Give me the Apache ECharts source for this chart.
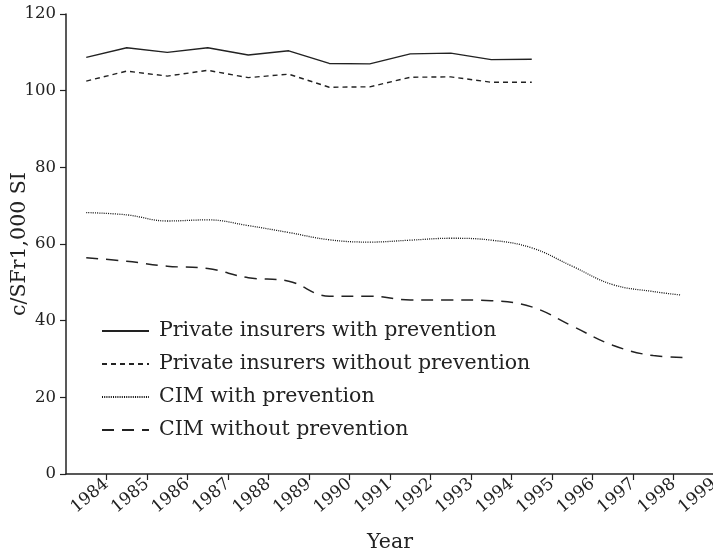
<!DOCTYPE html>
<html>
<head>
<meta charset="utf-8">
<script src="https://cdn.jsdelivr.net/npm/echarts@6/dist/echarts.min.js"></script>
<style>
  html, body { margin: 0; padding: 0; background: #fff; }
  #chart { width: 713px; height: 555px; }
</style>
</head>
<body>
<div id="chart"></div>
<script>
// Year labels along the bottom axis (blank at the origin tick)
const tickLabels = ['', '1984', '1985', '1986', '1987', '1988', '1989', '1990', '1991',
  '1992', '1993', '1994', '1995', '1996', '1997', '1998', '1999'];

// Private insurers, 1984-1995
const privateYears = [1984, 1985, 1986, 1987, 1988, 1989, 1990, 1991, 1992, 1993, 1994, 1995];
const privateWith = [108.7, 111.2, 110.0, 111.2, 109.3, 110.4, 107.1, 107.0, 109.6, 109.8, 108.1, 108.2];
const privateWithout = [102.5, 105.1, 103.8, 105.3, 103.4, 104.3, 100.9, 101.0, 103.5, 103.6, 102.2, 102.2];

// CIM series
const cimWithYears = [1984, 1985, 1986, 1987, 1988, 1989, 1990, 1991, 1992, 1993, 1994, 1995, 1996, 1997, 1998, 1998.67];
const cimWith = [68.2, 67.6, 66.0, 66.3, 64.8, 63.0, 61.1, 60.5, 61.0, 61.5, 61.0, 59.0, 54.2, 49.4, 47.6, 46.7];
const cimWithoutYears = [1984, 1985, 1986, 1987, 1988, 1989, 1990, 1991, 1992, 1993, 1994, 1995, 1996, 1997, 1998, 1998.9];
const cimWithout = [56.4, 55.5, 54.2, 53.6, 51.2, 50.3, 46.4, 46.4, 45.4, 45.4, 45.2, 43.6, 38.6, 33.6, 30.9, 30.4];

const pairs = (xs, ys) => xs.map((x, i) => [x, ys[i]]);

const FONT = 'DejaVu Serif';
const INK = '#222';

const chart = echarts.init(document.getElementById('chart'), null, { renderer: 'canvas' });

chart.setOption({
  backgroundColor: '#fff',
  animation: false,
  textStyle: { fontFamily: FONT, color: INK },
  grid: { left: 66, top: 14, width: 648, height: 460, containLabel: false, outerBoundsMode: 'none' },
  legend: {
    orient: 'vertical',
    left: 101,
    top: 320,
    padding: 0,
    itemWidth: 47,
    itemHeight: 14,
    itemGap: 11,
    itemStyle: { opacity: 0 },
    textStyle: { fontFamily: FONT, fontSize: 20.5, color: INK, lineHeight: 22, padding: [0, 0, 0, 5] },
    data: ['Private insurers with prevention', 'Private insurers without prevention',
      'CIM with prevention', 'CIM without prevention']
  },
  xAxis: [
    {
      // positions the data by year
      type: 'value',
      min: 1983.5,
      max: 1999.5,
      show: false
    },
    {
      // visible year axis with ticks between the yearly points
      type: 'category',
      position: 'bottom',
      boundaryGap: false,
      data: tickLabels,
      name: 'Year',
      nameLocation: 'middle',
      nameGap: 58,
      nameTextStyle: { fontFamily: FONT, fontSize: 20.5, color: INK },
      axisLine: { lineStyle: { color: INK, width: 1.5 } },
      axisTick: {
        show: true, length: 6,
        interval: (index) => index > 0,
        lineStyle: { color: INK, width: 1.2 }
      },
      axisLabel: { interval: 0, rotate: 40, margin: 8, fontFamily: FONT, fontSize: 17, color: INK },
      splitLine: { show: false }
    }
  ],
  yAxis: {
    type: 'value',
    min: 0,
    max: 120,
    interval: 20,
    name: 'c/SFr1,000 SI',
    nameLocation: 'middle',
    nameGap: 36,
    nameMoveOverlap: false,
    nameTextStyle: { fontFamily: FONT, fontSize: 20.5, color: INK },
    axisLine: { show: true, lineStyle: { color: INK, width: 1.5 } },
    axisTick: { show: true, length: 6, lineStyle: { color: INK, width: 1.2 } },
    axisLabel: { margin: 10, fontFamily: FONT, fontSize: 16.5, color: INK },
    splitLine: { show: false }
  },
  series: [
    {
      name: 'Private insurers with prevention',
      type: 'line', xAxisIndex: 0, symbol: 'none',
      data: pairs(privateYears, privateWith),
      lineStyle: { color: INK, width: 1.4, type: 'solid' },
      itemStyle: { color: INK }
    },
    {
      name: 'Private insurers without prevention',
      type: 'line', xAxisIndex: 0, symbol: 'none',
      data: pairs(privateYears, privateWithout),
      lineStyle: { color: INK, width: 1.4, type: [5, 4] },
      itemStyle: { color: INK }
    },
    {
      name: 'CIM with prevention',
      type: 'line', xAxisIndex: 0, symbol: 'none', smooth: 0.4,
      data: pairs(cimWithYears, cimWith),
      lineStyle: { color: '#111', width: 1.3, type: [1, 1.2] },
      itemStyle: { color: INK }
    },
    {
      name: 'CIM without prevention',
      type: 'line', xAxisIndex: 0, symbol: 'none', smooth: 0.4,
      data: pairs(cimWithoutYears, cimWithout),
      lineStyle: { color: INK, width: 1.5, type: [12, 8] },
      itemStyle: { color: INK }
    }
  ]
});
</script>
</body>
</html>
